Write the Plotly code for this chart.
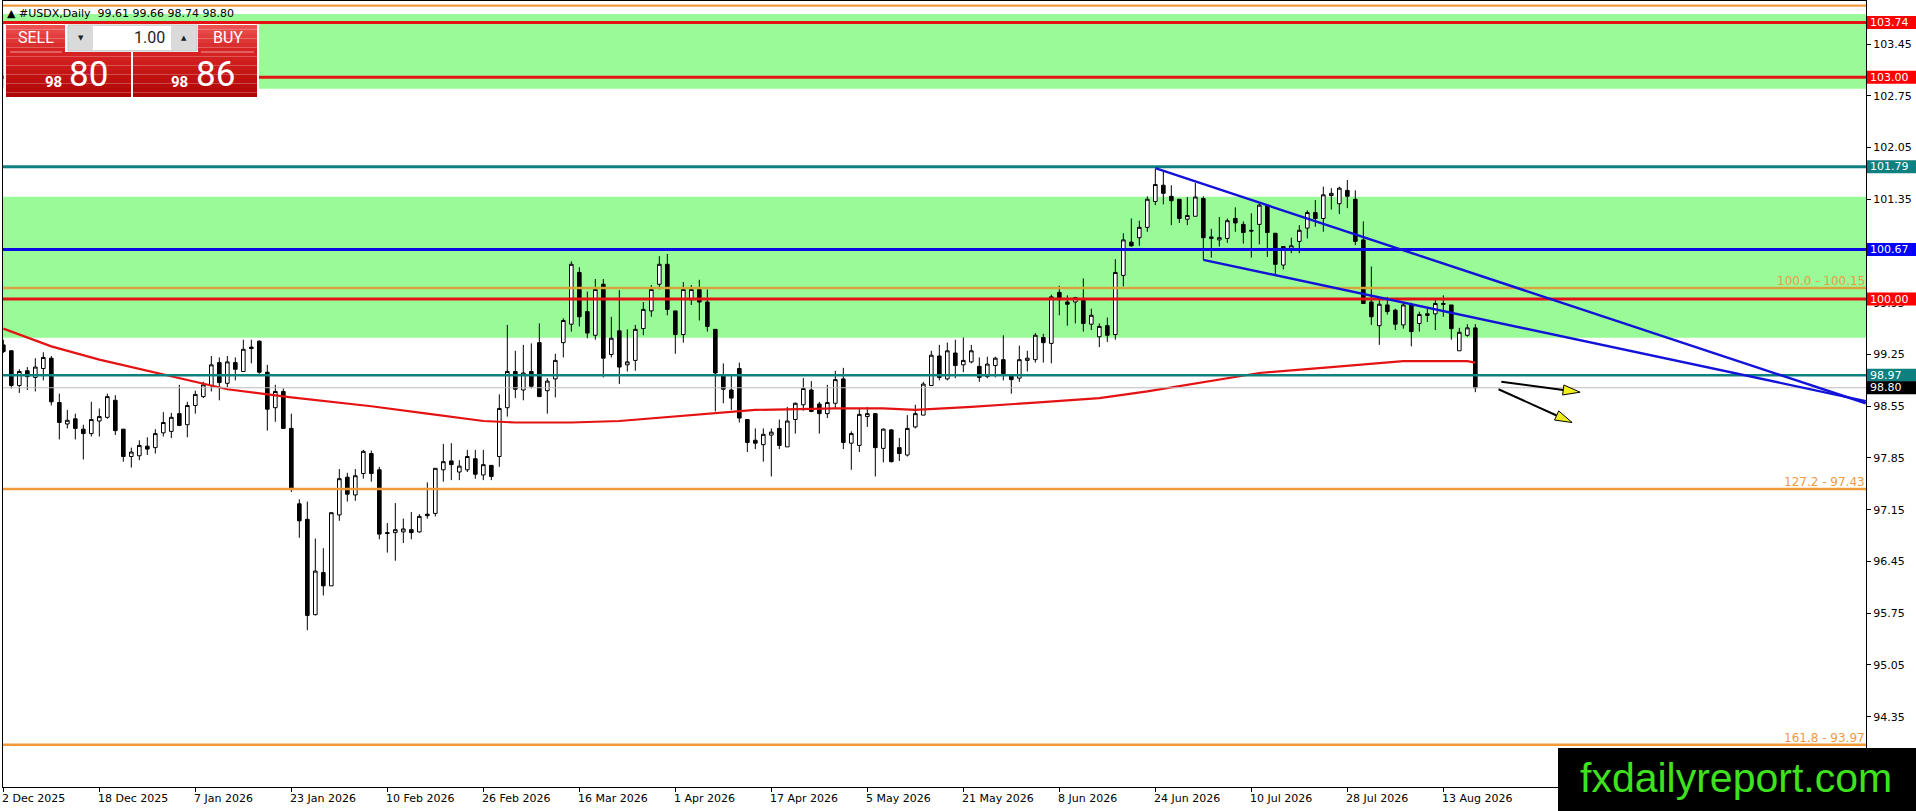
import plotly.graph_objects as go

# ---------------- figure geometry ----------------
W, H = 1916, 811
ML, MR, MT, MB = 3, 50, 1, 24
PW, PH = W - ML - MR, H - MT - MB
BAR_PX = 8.0
X0 = -0.04
X1 = X0 + PW / BAR_PX
Y_TOP = 104.032
Y_BOT = 93.399

# ---------------- data ----------------
date_labels = ["2 Dec 2025", "18 Dec 2025", "7 Jan 2026", "23 Jan 2026", "10 Feb 2026",
               "26 Feb 2026", "16 Mar 2026", "1 Apr 2026", "17 Apr 2026", "5 May 2026",
               "21 May 2026", "8 Jun 2026", "24 Jun 2026", "10 Jul 2026", "28 Jul 2026",
               "13 Aug 2026"]
date_idx = [0, 12, 24, 36, 48, 60, 72, 84, 96, 108, 120, 132, 144, 156, 168, 180]

opens = [99.38, 99.30, 98.83, 99.03, 98.94, 99.06, 99.20, 98.60, 98.31, 98.38,
         98.24, 98.18, 98.35, 98.40, 98.63, 98.24, 97.87, 97.88, 98.01, 97.99,
         98.19, 98.21, 98.45, 98.30, 98.56, 98.68, 98.83, 99.14, 98.86, 99.14,
         99.02, 99.35, 99.43, 99.01, 98.53, 98.75, 98.25, 97.23, 97.02, 95.73,
         96.30, 96.12, 97.08, 97.59, 97.35, 97.64, 97.91, 97.69, 96.84, 96.84,
         96.85, 96.88, 96.85, 97.09, 97.10, 97.69, 97.81, 97.66, 97.69, 97.84,
         97.62, 97.75, 97.87, 98.53, 99.02, 98.77, 99.02, 99.41, 98.76, 98.92,
         99.41, 99.66, 100.36, 99.83, 99.51, 100.20, 99.25, 99.57, 99.11, 99.17,
         99.60, 99.84, 100.20, 100.47, 99.84, 99.52, 99.99, 100.13, 99.96, 99.59,
         98.96, 98.77, 99.06, 98.37, 98.09, 98.03, 98.16, 98.25, 98.00, 98.37,
         98.57, 98.77, 98.58, 98.45, 98.59, 98.92, 98.05, 98.02, 98.41, 98.45,
         97.98, 98.23, 97.99, 97.89, 98.27, 98.43, 98.83, 99.23, 98.92, 99.27,
         99.11, 99.15, 99.09, 98.95, 99.10, 99.18, 98.96, 98.93, 99.17, 99.18,
         99.48, 99.40, 100.09, 99.96, 99.96, 99.98, 99.66, 99.49, 99.64, 99.52,
         100.32, 100.77, 100.83, 100.97, 101.32, 101.54, 101.39, 101.35, 101.08, 101.12,
         101.36, 100.82, 100.80, 100.82, 101.09, 101.01, 100.93, 101.01, 101.27, 100.89,
         100.46, 100.68, 100.78, 100.96, 101.17, 101.09, 101.40, 101.29, 101.47, 101.35,
         100.80, 99.96, 99.64, 99.92, 99.85, 99.65, 99.92, 99.67, 99.80, 99.80,
         99.94, 99.92, 99.30, 99.51, 99.61]
highs = [99.45, 99.31, 99.05, 99.08, 99.20, 99.28, 99.23, 98.72, 98.50, 98.45,
         98.30, 98.61, 98.52, 98.72, 98.70, 98.24, 97.99, 98.09, 98.13, 98.24,
         98.47, 98.46, 98.84, 98.61, 98.76, 98.88, 99.23, 99.21, 99.23, 99.21,
         99.45, 99.45, 99.44, 99.11, 98.84, 98.79, 98.45, 97.29, 97.26, 96.76,
         96.63, 97.11, 97.70, 97.65, 97.70, 97.96, 97.95, 97.73, 96.97, 97.24,
         97.03, 97.12, 97.09, 97.52, 97.71, 98.04, 98.05, 97.82, 97.96, 97.96,
         97.96, 97.75, 98.71, 99.65, 99.30, 99.38, 99.40, 99.67, 98.93, 99.26,
         99.74, 100.51, 100.43, 100.10, 100.27, 100.27, 99.76, 100.12, 99.59, 99.65,
         99.96, 100.19, 100.58, 100.61, 99.84, 100.23, 100.19, 100.26, 100.13, 99.59,
         99.13, 98.96, 99.14, 98.37, 98.25, 98.25, 98.25, 98.37, 98.54, 98.60,
         98.93, 98.89, 98.61, 98.84, 99.03, 99.07, 98.21, 98.51, 98.54, 98.45,
         98.25, 98.24, 98.12, 98.43, 98.57, 98.88, 99.30, 99.38, 99.41, 99.45,
         99.48, 99.38, 99.21, 99.22, 99.22, 99.51, 98.96, 99.37, 99.30, 99.54,
         99.53, 100.06, 100.18, 100.05, 100.03, 100.28, 99.87, 99.67, 99.75, 100.54,
         100.89, 101.09, 101.06, 101.39, 101.76, 101.72, 101.54, 101.35, 101.38, 101.57,
         101.39, 100.95, 101.11, 101.09, 101.24, 101.05, 101.16, 101.29, 101.27, 100.89,
         100.71, 100.83, 101.00, 101.20, 101.34, 101.52, 101.50, 101.52, 101.61, 101.47,
         101.05, 100.44, 99.99, 100.03, 99.87, 99.95, 99.95, 99.83, 99.87, 99.99,
         100.05, 99.92, 99.61, 99.66, 99.66]
lows = [99.27, 98.79, 98.73, 98.77, 98.75, 98.90, 98.56, 98.10, 98.25, 98.10,
        97.83, 98.14, 98.14, 98.38, 98.16, 97.80, 97.72, 97.82, 97.89, 97.91,
        98.14, 98.12, 98.28, 98.13, 98.45, 98.66, 98.75, 98.63, 98.81, 98.90,
        99.02, 99.13, 98.99, 98.22, 98.34, 98.25, 97.39, 96.77, 95.52, 95.72,
        95.99, 96.12, 97.00, 97.26, 97.27, 97.57, 97.53, 96.75, 96.57, 96.46,
        96.70, 96.75, 96.84, 97.03, 97.06, 97.53, 97.55, 97.55, 97.66, 97.57,
        97.55, 97.55, 97.73, 98.41, 98.66, 98.63, 98.79, 98.68, 98.45, 98.67,
        99.21, 99.56, 99.63, 99.47, 99.45, 98.94, 99.21, 98.85, 99.02, 99.03,
        99.51, 99.76, 100.13, 99.78, 99.26, 99.41, 99.92, 99.71, 99.56, 98.48,
        98.59, 98.50, 98.33, 97.93, 97.97, 97.80, 97.60, 97.97, 98.00, 98.18,
        98.49, 98.47, 98.18, 98.39, 98.52, 97.97, 97.69, 97.93, 98.27, 97.60,
        97.79, 97.79, 97.81, 97.87, 98.25, 98.43, 98.83, 98.90, 98.90, 98.93,
        99.01, 99.13, 98.88, 98.93, 98.94, 98.90, 98.72, 98.88, 99.02, 99.14,
        99.14, 99.13, 99.78, 99.64, 99.67, 99.56, 99.58, 99.35, 99.42, 99.45,
        100.17, 100.71, 100.72, 100.91, 101.27, 101.28, 101.00, 101.03, 101.00, 101.12,
        100.53, 100.56, 100.71, 100.76, 100.91, 100.75, 100.56, 100.74, 100.57, 100.33,
        100.40, 100.62, 100.62, 100.82, 100.98, 100.91, 101.21, 101.15, 101.23, 100.73,
        99.94, 99.65, 99.38, 99.79, 99.58, 99.60, 99.36, 99.56, 99.69, 99.58,
        99.76, 99.45, 99.30, 99.49, 98.74]
closes = [99.29, 98.83, 99.02, 98.95, 99.08, 99.21, 98.61, 98.33, 98.36, 98.25,
          98.18, 98.37, 98.41, 98.68, 98.22, 97.87, 97.93, 98.02, 97.97, 98.18,
          98.33, 98.40, 98.29, 98.56, 98.71, 98.84, 99.11, 98.87, 99.15, 99.05,
          99.32, 99.33, 99.01, 98.51, 98.75, 98.25, 97.44, 97.00, 95.72, 96.32,
          96.12, 97.11, 97.57, 97.36, 97.61, 97.94, 97.64, 96.82, 96.83, 96.88,
          96.89, 96.84, 97.06, 97.07, 97.71, 97.80, 97.76, 97.74, 97.87, 97.63,
          97.76, 97.60, 98.52, 99.02, 98.78, 99.00, 98.82, 98.68, 98.89, 99.17,
          99.71, 100.47, 99.76, 99.54, 100.13, 99.20, 99.47, 99.08, 99.15, 99.59,
          99.86, 100.13, 100.47, 99.86, 99.52, 100.13, 100.13, 99.96, 99.63, 99.00,
          98.78, 98.66, 98.39, 98.06, 98.05, 98.17, 98.20, 98.02, 98.35, 98.59,
          98.79, 98.48, 98.45, 98.60, 98.91, 98.06, 98.18, 98.44, 98.45, 97.99,
          98.24, 97.80, 97.91, 98.25, 98.45, 98.85, 99.24, 98.94, 99.30, 99.10,
          99.17, 99.30, 98.94, 99.12, 99.20, 98.99, 98.91, 99.18, 99.20, 99.51,
          99.41, 100.03, 99.99, 99.93, 100.02, 99.67, 99.78, 99.63, 99.51, 100.36,
          100.80, 100.72, 100.97, 101.35, 101.55, 101.43, 101.33, 101.09, 101.13, 101.38,
          100.83, 100.84, 100.83, 101.06, 101.03, 100.90, 100.92, 101.27, 100.90, 100.47,
          100.71, 100.72, 100.93, 101.17, 101.09, 101.41, 101.43, 101.50, 101.39, 100.78,
          99.94, 99.76, 99.93, 99.83, 99.66, 99.92, 99.56, 99.79, 99.78, 99.94,
          99.93, 99.60, 99.55, 99.61, 98.80]
bar_idx = list(range(len(opens)))

# moving average
ma_idx = [0, 6, 12, 20, 25, 28, 36, 40, 46, 53, 57, 60, 64, 71, 77, 86, 89, 94,
          104, 110, 114, 121, 129, 137, 143, 150, 157, 166, 175, 183, 184]
ma_vals = [99.60, 99.36, 99.18, 98.98, 98.86, 98.78, 98.67, 98.62, 98.55, 98.45,
           98.39, 98.35, 98.33, 98.33, 98.35, 98.43, 98.46, 98.50, 98.52, 98.52,
           98.50, 98.54, 98.60, 98.66, 98.75, 98.87, 99.00, 99.08, 99.16, 99.16, 99.14]

# trend lines (bar index, price)
trend_upper_x = [144, 232.8]
trend_upper_y = [101.77, 98.59]
trend_lower_x = [150, 232.8]
trend_lower_y = [100.53, 98.62]

# horizontal levels
hl_prices = [103.97, 103.74, 103.00, 101.79, 100.67, 100.15, 100.00, 98.97, 98.80, 97.43, 93.97]
hl_colors = ["#F09A3C", "#E41212", "#E41212", "#0E8080", "#0A0AE6", "#D9A43A",
             "#E41212", "#0E8080", "#BDBDBD", "#F09A3C", "#F09A3C"]
hl_widths = [2.2, 3, 3, 2.8, 2.8, 2.4, 3, 2.6, 1, 2.4, 2.4]

# supply/demand zones
zone_lo = [102.845, 99.477]
zone_hi = [103.856, 101.384]

# right-axis price labels
lbl_prices = [103.74, 103.00, 101.79, 100.67, 100.00, 98.97, 98.80]
lbl_colors = ["#FF0000", "#FF0000", "#0E8080", "#0000FF", "#FF0000", "#0E8080", "#000000"]

# fibonacci texts
fib_texts = ["100.0 - 100.15", "127.2 - 97.43", "161.8 - 93.97"]
fib_prices = [100.15, 97.43, 93.97]

# forecast arrows (tail x, tail y, tip x, tip y)
arrows = [(187.25, 98.88, 197.1, 98.74), (186.9, 98.78, 196.1, 98.33)]

# y ticks
ytick_vals = [94.35, 95.05, 95.75, 96.45, 97.15, 97.85, 98.55, 99.25, 99.95,
              100.65, 101.35, 102.05, 102.75, 103.45]

header = "\u25B2 #USDX,Daily  99.61 99.66 98.74 98.80"

# ---------------- helpers ----------------
SY = PH / (Y_TOP - Y_BOT)


def PX(x):
    return (x - ML) / PW


def PY(y):
    return (H - MB - y) / PH


FONT = "DejaVu Sans"

fig = go.Figure()
fig.add_trace(go.Candlestick(
    x=bar_idx, open=opens, high=highs, low=lows, close=closes,
    increasing=dict(line=dict(color="black", width=1), fillcolor="white"),
    decreasing=dict(line=dict(color="black", width=1), fillcolor="black"),
    whiskerwidth=0, showlegend=False, hoverinfo="skip"))
fig.add_trace(go.Scatter(x=ma_idx, y=ma_vals, mode="lines",
                         line=dict(color="#E41212", width=2.2), showlegend=False,
                         hoverinfo="skip"))

shapes = []
for lo, hi in zip(zone_lo, zone_hi):
    shapes.append(dict(type="rect", xref="paper", yref="y", x0=0, x1=1, y0=lo, y1=hi,
                       fillcolor="#98FB98", line=dict(width=0), layer="below"))
for p, c, w in zip(hl_prices, hl_colors, hl_widths):
    shapes.append(dict(type="line", xref="paper", yref="y", x0=0, x1=1, y0=p, y1=p,
                       line=dict(color=c, width=w), layer="above"))
for tx, ty in ((trend_upper_x, trend_upper_y), (trend_lower_x, trend_lower_y)):
    shapes.append(dict(type="line", xref="x", yref="y", x0=tx[0], x1=tx[1], y0=ty[0], y1=ty[1],
                       line=dict(color="#1212D8", width=2.4), layer="above"))

# arrows: shaft + yellow head
HEAD_L, HEAD_W = 17.0, 5.0
for (ax, ay, bx, by) in arrows:
    dx = (bx - ax) * BAR_PX
    dy = (by - ay) * SY
    n = (dx * dx + dy * dy) ** 0.5
    ux, uy = dx / n, dy / n
    baseX = bx - HEAD_L * ux / BAR_PX
    baseY = by - HEAD_L * uy / SY
    px_, py_ = -uy, ux
    c1 = (baseX + HEAD_W * px_ / BAR_PX, baseY + HEAD_W * py_ / SY)
    c2 = (baseX - HEAD_W * px_ / BAR_PX, baseY - HEAD_W * py_ / SY)
    shapes.append(dict(type="line", xref="x", yref="y", x0=ax, y0=ay, x1=baseX, y1=baseY,
                       line=dict(color="black", width=2), layer="above"))
    path = f"M {bx},{by} L {c1[0]},{c1[1]} L {c2[0]},{c2[1]} Z"
    shapes.append(dict(type="path", xref="x", yref="y", path=path, fillcolor="#F2EE1E",
                       line=dict(color="black", width=1), layer="above"))

# right-axis colored labels
LBL_H = 13
for p, c in zip(lbl_prices, lbl_colors):
    yc = MT + (Y_TOP - p) * SY
    shapes.append(dict(type="rect", xref="paper", yref="paper", x0=PX(1867), x1=PX(1916),
                       y0=PY(yc + LBL_H / 2), y1=PY(yc - LBL_H / 2),
                       fillcolor=c, line=dict(width=0), layer="above"))

# trade panel
shapes.append(dict(type="rect", xref="paper", yref="paper", x0=PX(4), x1=PX(259),
                   y0=PY(98), y1=PY(24), fillcolor="white", line=dict(width=0), layer="above"))


def grad_rect(x0, x1, y0, y1, ctop, cbot, n=10):
    for i in range(n):
        t = i / (n - 1)
        col = tuple(int(round(ctop[k] + (cbot[k] - ctop[k]) * t)) for k in range(3))
        ya = y0 + (y1 - y0) * i / n
        yb = y0 + (y1 - y0) * (i + 1) / n
        shapes.append(dict(type="rect", xref="paper", yref="paper", x0=PX(x0), x1=PX(x1),
                           y0=PY(yb), y1=PY(ya), fillcolor="rgb(%d,%d,%d)" % col,
                           line=dict(width=0), layer="above"))


grad_rect(6, 65, 25, 52, (236, 80, 80), (214, 36, 36), 6)
grad_rect(198, 257, 25, 52, (236, 80, 80), (214, 36, 36), 6)
grad_rect(6, 131, 52, 97, (214, 34, 34), (176, 6, 6), 10)
grad_rect(133, 257, 52, 97, (214, 34, 34), (176, 6, 6), 10)
for xa, xb in ((10, 62), (201, 254)):
    shapes.append(dict(type="line", xref="paper", yref="paper", x0=PX(xa), x1=PX(xb),
                       y0=PY(52), y1=PY(52), line=dict(color="#F39A9A", width=1), layer="above"))
shapes.append(dict(type="rect", xref="paper", yref="paper", x0=PX(68), x1=PX(197),
                   y0=PY(51), y1=PY(25), fillcolor="#DADADA", line=dict(color="#C8C8C8", width=1),
                   layer="above"))
shapes.append(dict(type="rect", xref="paper", yref="paper", x0=PX(93), x1=PX(171),
                   y0=PY(50), y1=PY(26), fillcolor="white", line=dict(width=0), layer="above"))

# watermark box
shapes.append(dict(type="rect", xref="paper", yref="paper", x0=PX(1558), x1=PX(1917),
                   y0=PY(812), y1=PY(748), fillcolor="black", line=dict(width=0), layer="above"))

annotations = []
# date labels
for i, t in zip(date_idx, date_labels):
    annotations.append(dict(x=i, xref="x", y=PY(798), yref="paper", text=t, showarrow=False,
                            xanchor="left", yanchor="middle", xshift=-3,
                            font=dict(family=FONT, size=11, color="black")))
# right labels text
for p in lbl_prices:
    yc = MT + (Y_TOP - p) * SY
    annotations.append(dict(x=PX(1868), xref="paper", y=PY(yc), yref="paper", text="%.2f" % p,
                            showarrow=False, xanchor="left", yanchor="middle",
                            font=dict(family=FONT, size=11, color="white")))
# fib texts
for t, p in zip(fib_texts, fib_prices):
    yc = MT + (Y_TOP - p) * SY - 7
    annotations.append(dict(x=PX(1867), xref="paper", y=PY(yc), yref="paper", text=t,
                            showarrow=False, xanchor="right", yanchor="middle",
                            font=dict(family=FONT, size=12, color="#EE9A45")))
# header
annotations.append(dict(x=PX(5), xref="paper", y=PY(13), yref="paper", text=header,
                        showarrow=False, xanchor="left", yanchor="middle",
                        font=dict(family=FONT, size=11, color="black")))
# panel text
PF = "Roboto"
annotations += [
    dict(x=PX(35.5), y=PY(38), text="SELL", font=dict(family=PF, size=16, color="white")),
    dict(x=PX(227.5), y=PY(38), text="BUY", font=dict(family=PF, size=16, color="white")),
    dict(x=PX(167), y=PY(38), text="1.00", xanchor="right", font=dict(family=PF, size=16, color="#1E1E1E")),
    dict(x=PX(80.5), y=PY(38), text="\u25BC", font=dict(family=FONT, size=7, color="#202020")),
    dict(x=PX(183.5), y=PY(38), text="\u25B2", font=dict(family=FONT, size=7, color="#202020")),
    dict(x=PX(64), y=PY(82), text="<b>98</b>", xanchor="right", font=dict(family=PF, size=15, color="white")),
    dict(x=PX(67), y=PY(74), text="80", xanchor="left", font=dict(family=PF, size=35, color="white")),
    dict(x=PX(190), y=PY(82), text="<b>98</b>", xanchor="right", font=dict(family=PF, size=15, color="white")),
    dict(x=PX(194), y=PY(74), text="86", xanchor="left", font=dict(family=PF, size=35, color="white")),
    dict(x=PX(1736), y=PY(778), text="fxdailyreport.com",
         font=dict(family="Liberation Sans", size=41, color="#3EE21E")),
]
for a in annotations[-10:]:
    a.setdefault("xref", "paper")
    a.setdefault("yref", "paper")
    a.setdefault("showarrow", False)
    a.setdefault("xanchor", "center")
    a.setdefault("yanchor", "middle")

fig.update_layout(
    width=W, height=H,
    margin=dict(l=ML, r=MR, t=MT, b=MB, pad=0),
    paper_bgcolor="white", plot_bgcolor="white",
    showlegend=False, boxgap=0.35,
    shapes=shapes, annotations=annotations,
    xaxis=dict(range=[X0, X1], type="linear", showgrid=False, zeroline=False,
               showline=True, linecolor="black", linewidth=1, mirror=True,
               tickvals=date_idx, ticks="outside", ticklen=4, tickcolor="black",
               showticklabels=False, rangeslider=dict(visible=False), fixedrange=True),
    yaxis=dict(range=[Y_BOT, Y_TOP], side="right", showgrid=False, zeroline=False,
               showline=True, linecolor="black", linewidth=1, mirror=True,
               tickvals=ytick_vals, ticktext=["%.2f" % v for v in ytick_vals],
               ticks="outside", ticklen=4, tickcolor="black",
               tickfont=dict(family=FONT, size=11, color="black"), fixedrange=True),
)

fig.write_html("out.html", config=dict(displayModeBar=False),
               post_script="document.body.style.margin='0';document.body.style.overflow='hidden';")
